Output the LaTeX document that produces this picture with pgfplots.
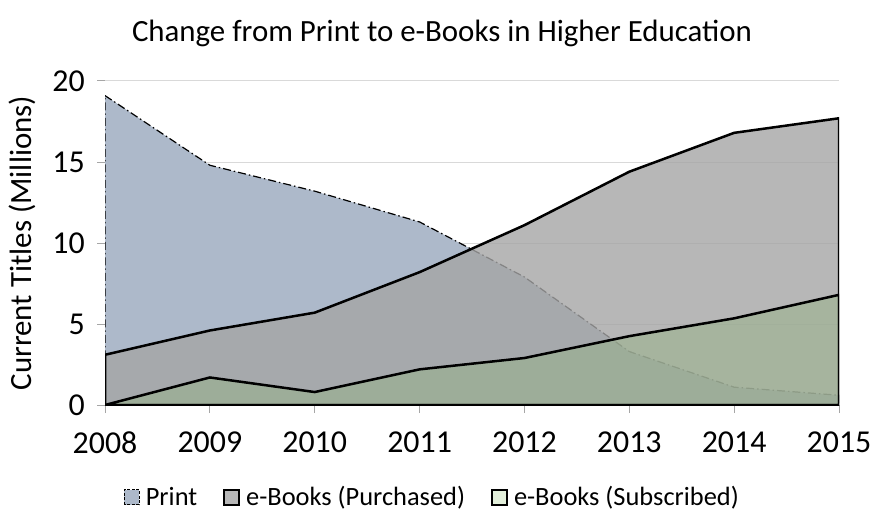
\documentclass[border=0pt]{standalone}
\usepackage{fontspec}
\setmainfont{Carlito}
\usepackage{pgfplots}
\pgfplotsset{compat=1.18}
\definecolor{printfill}{HTML}{ADB9CA}
\definecolor{purfill}{HTML}{A5A5A5}
\definecolor{subfill}{RGB}{150,178,136}
\definecolor{sublegend}{HTML}{E2EFDA}
\definecolor{gridc}{HTML}{D9D9D9}
\definecolor{axisc}{HTML}{A6A6A6}
\begin{document}
\begin{tikzpicture}
\begin{axis}[
  scale only axis,
  width=734bp, height=324bp,
  xmin=2008, xmax=2015, ymin=0, ymax=20,
  xtick={2008,2009,2010,2011,2012,2013,2014,2015},
  ytick={0,5,10,15,20},
  /pgf/number format/1000 sep={},
  /pgf/number format/assume math mode=true,
  axis x line*=bottom, axis y line*=left,
  x axis line style={draw=axisc, line width=1bp, -},
  y axis line style={draw=none, -},
  tick align=outside,
  major tick length=8bp,
  every tick/.style={draw=axisc, line width=1bp},
  ymajorgrids, grid style={draw=gridc, line width=1bp},
  xticklabel style={font=\fontsize{32}{32}\selectfont, inner sep=0pt, yshift=-19bp},
  yticklabel style={font=\fontsize{32}{32}\selectfont, inner sep=0pt, xshift=-12bp},
  legend style={at={(0.446,-0.284)}, anchor=center, draw=none, fill=none,
    font=\fontsize{26.5}{26.5}\selectfont, legend columns=3,
    /tikz/every even column/.append style={column sep=24bp}},
  legend image code/.code={\draw[#1] (0bp,-7.5bp) rectangle (15bp,7.5bp); \path (19bp,0bp);},
]
\addplot[draw=black, line width=1.2bp, dash pattern=on 8bp off 3bp on 1.5bp off 3bp, fill=printfill, forget plot]
  coordinates {(2008,19.1)(2009,14.8)(2010,13.2)(2011,11.3)(2012,7.9)(2013,3.3)(2014,1.1)(2015,0.6)} \closedcycle;
\addplot[draw=black, line width=2.5bp, fill=purfill, fill opacity=0.8, draw opacity=1, forget plot]
  coordinates {(2008,3.1)(2009,4.6)(2010,5.7)(2011,8.2)(2012,11.1)(2013,14.4)(2014,16.8)(2015,17.7)} \closedcycle;
\addplot[draw=black, line width=2.5bp, fill=subfill, fill opacity=0.5, draw opacity=1, forget plot]
  coordinates {(2008,0)(2009,1.7)(2010,0.8)(2011,2.2)(2012,2.9)(2013,4.25)(2014,5.35)(2015,6.8)} \closedcycle;
\addlegendimage{draw=black, line width=1bp, dash pattern=on 3bp off 1.5bp, fill=printfill}
\addlegendentry{Print}
\addlegendimage{draw=black, line width=2bp, fill=purfill!80!white}
\addlegendentry{e-Books (Purchased)}
\addlegendimage{draw=black, line width=2bp, fill=sublegend}
\addlegendentry{e-Books (Subscribed)}
\coordinate (sw) at (rel axis cs:0,0);
\coordinate (nw) at (rel axis cs:0,1);
\coordinate (ne) at (rel axis cs:1,1);
\end{axis}
\node[font=\fontsize{31}{31}\selectfont, anchor=center] at ([xshift=337bp,yshift=48bp]nw) {Change from Print to e-Books in Higher Education};
\node[font=\fontsize{31}{31}\selectfont, rotate=90, anchor=center] at ([xshift=-83bp,yshift=162bp]sw) {Current Titles (Millions)};
\pgfresetboundingbox
\path ([xshift=-105bp,yshift=-114bp]sw) rectangle ([xshift=33bp,yshift=81bp]ne);
\end{tikzpicture}
\end{document}
